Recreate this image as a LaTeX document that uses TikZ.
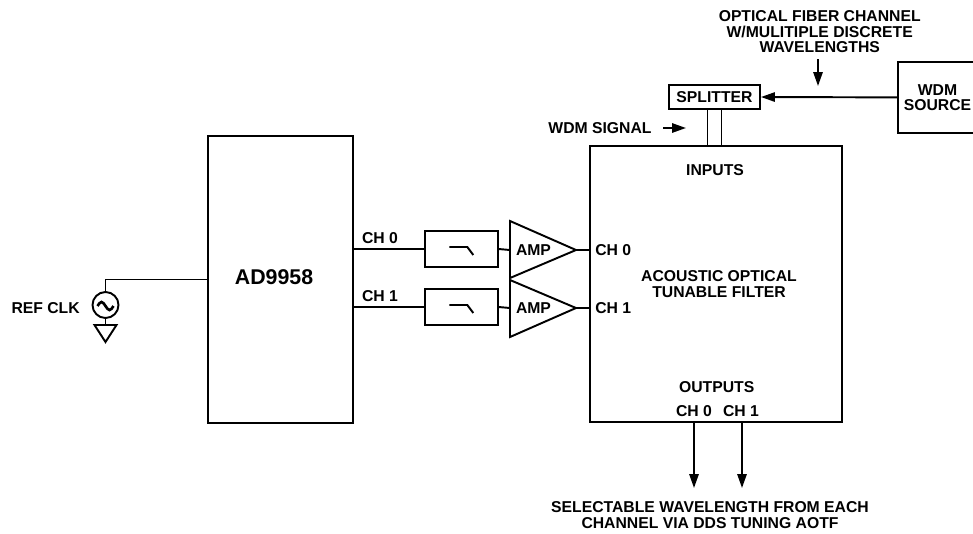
\documentclass[tikz,border=0pt]{standalone}
\usepackage{fontspec}
\setmainfont{Liberation Sans}
\usetikzlibrary{arrows.meta,calc}
\begin{document}
\begin{tikzpicture}[x=0.75pt,y=-0.75pt,
  every node/.style={font=\fontsize{11.8}{11.6}\selectfont\bfseries, inner sep=0pt},
  box/.style={draw, line width=1.6pt},
  thin/.style={line width=1.45pt},
  arr/.style={line width=1.45pt, -{Triangle[length=10.5pt,width=7pt]}},
  lbl/.style={align=center}]
\useasboundingbox (0,0) rectangle (973,533);

% main blocks
\node[box, line width=2.2pt, minimum width=108.75pt, minimum height=215.25pt] (ad) at (280.5,279.5) {};
\node[font=\fontsize{16}{16}\selectfont\bfseries] (adl) at (274,277) {AD9958};
\node[box, minimum width=189pt, minimum height=207pt] (aotf) at (716,283.8) {};

% filters
\node[box, thin, minimum width=54.5pt, minimum height=27pt] (f0) at (461.3,249) {};
\node[box, thin, minimum width=54.5pt, minimum height=27pt] (f1) at (461.3,307) {};
\draw[thin] ([shift={(-12,-2)}]f0.center) -- ++(18,0) -- ++(6,8);
\draw[thin] ([shift={(-12,-2)}]f1.center) -- ++(18,0) -- ++(6,8);

% amplifiers
\coordinate (a0in) at (510,250);
\coordinate (a0out) at (576,250);
\coordinate (a1in) at (510,308);
\coordinate (a1out) at (576,308);
\draw[thin] (510,221) -- (a0out) -- (510,278) -- cycle;
\draw[thin] (510,280) -- (a1out) -- (510,337) -- cycle;
\node (amp0) at (533.5,250) {AMP};
\node (amp1) at (533.5,308) {AMP};

% channel connections
\draw[thin] (f0.west -| ad.east) -- (f0.west);
\draw[thin] (f1.west -| ad.east) -- (f1.west);
\draw[thin] (f0.east) -- (a0in);
\draw[thin] (f1.east) -- (a1in);
\draw[thin] (a0out) -- (a0out -| aotf.west);
\draw[thin] (a1out) -- (a1out -| aotf.west);
\node (ch0l) at (380,238) {CH 0};
\node (ch1l) at (380,296) {CH 1};
\node[anchor=west] (ch0r) at (595,250) {CH 0};
\node[anchor=west] (ch1r) at (595,308) {CH 1};

% AOTF labels
\node (inputs) at (715,170) {INPUTS};
\node[lbl] (aotfl) at (719,284) {ACOUSTIC OPTICAL\\TUNABLE FILTER};
\node (outputs) at (716.7,387) {OUTPUTS};
\node (och0) at (694,411) {CH 0};
\node (och1) at (741,411) {CH 1};

% REF CLK
\node[draw, circle, thin, minimum size=19.5pt] (clk) at (105.5,305) {};
\draw[line width=2pt] ([shift={(-8,1)}]clk.center) sin ++(4,-4) cos ++(4,4) sin ++(4,4) cos ++(4,-4);
\draw[thin] (ad.west) -| (clk.north);
\coordinate (gnd) at (105.5,325);
\draw[thin] (clk.south) -- (gnd);
\draw[thin] (94.5,325) -- (116.5,325) -- (105.5,342) -- cycle;
\node[anchor=east] (refclk) at (80,308) {REF CLK};

% splitter and WDM source
\node[box, thin, minimum width=68.25pt, minimum height=18pt] (spl) at (714.5,97) {SPLITTER};
\node[box, lbl, minimum width=59.25pt, minimum height=53.5pt] (wdm) at (937.5,97.4) {WDM\\SOURCE};
\draw[arr] (wdm.west) -- (spl.east);
\draw[thin] ([xshift=-5.25pt]spl.south) -- ([xshift=-5.25pt]spl.south |- aotf.north);
\draw[thin] ([xshift=5.25pt]spl.south) -- ([xshift=5.25pt]spl.south |- aotf.north);

\node[lbl] (fiber) at (819.7,32) {OPTICAL FIBER CHANNEL\\W/MULITIPLE DISCRETE\\WAVELENGTHS};
\coordinate (fibtip) at (818,86);
\draw[arr] (818,59) -- (fibtip);

\node (wdmsig) at (600,128) {WDM SIGNAL};
\coordinate (sigtip) at (686,128);
\draw[arr] (663,128) -- (sigtip);

% outputs
\coordinate (o0) at (694,488);
\coordinate (o1) at (742,488);
\draw[arr] (o0 |- aotf.south) -- (o0);
\draw[arr] (o1 |- aotf.south) -- (o1);
\node[lbl] (sel) at (710,515) {SELECTABLE WAVELENGTH FROM EACH\\CHANNEL VIA DDS TUNING AOTF};
\end{tikzpicture}
\end{document}
